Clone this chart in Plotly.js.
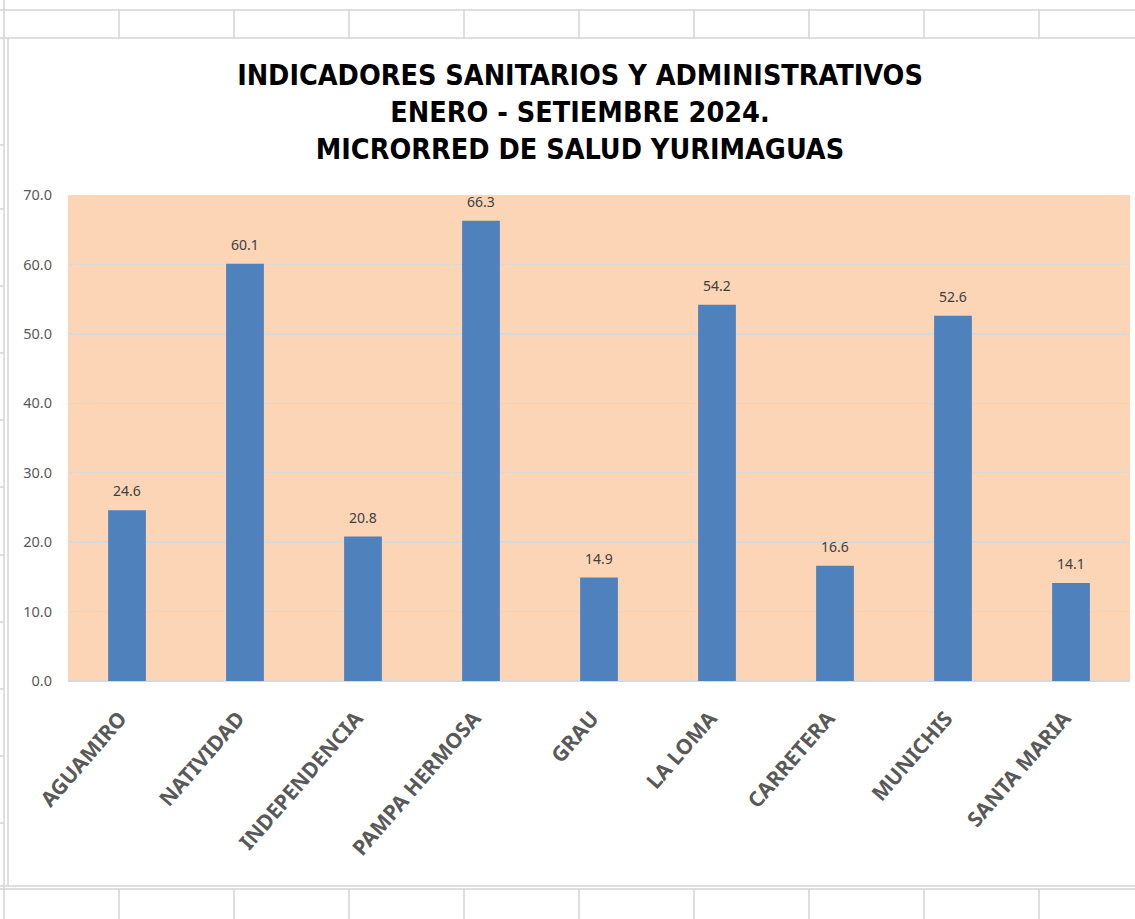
<!DOCTYPE html>
<html>
<head>
<meta charset="utf-8">
<script src="https://cdn.plot.ly/plotly-3.0.1.min.js"></script>
<style>html,body{margin:0;padding:0;background:#fff;}#chart{width:1135px;height:919px;}</style>
</head>
<body>
<div id="chart"></div>
<script>
const categories = ["AGUAMIRO","NATIVIDAD","INDEPENDENCIA","PAMPA HERMOSA","GRAU","LA LOMA","CARRETERA","MUNICHIS","SANTA MARIA"];
const values = [24.6, 60.1, 20.8, 66.3, 14.9, 54.2, 16.6, 52.6, 14.1];
const yTicks = [0, 10, 20, 30, 40, 50, 60, 70];
const titleLines = ["INDICADORES SANITARIOS Y ADMINISTRATIVOS", "ENERO - SETIEMBRE 2024.", "MICRORRED DE SALUD YURIMAGUAS"];

// layout geometry (pixels)
const W = 1135, H = 919, L = 68, R = 5, T = 195, B = 238;
const pw = W - L - R, ph = H - T - B;
const px = x => (x - L) / pw;
const py = y => (H - B - y) / ph;

const grid = '#D4D4D4';
const shapes = [];
[10, 38].forEach(y => shapes.push({type:'line', xref:'paper', yref:'paper', x0:px(0), x1:px(W), y0:py(y), y1:py(y), line:{color:grid, width:1.5}, layer:'below'}));
for (let x = 119; x < W; x += 115) {
  shapes.push({type:'line', xref:'paper', yref:'paper', x0:px(x), x1:px(x), y0:py(10), y1:py(38), line:{color:grid, width:1.5}, layer:'below'});
  shapes.push({type:'line', xref:'paper', yref:'paper', x0:px(x), x1:px(x), y0:py(889), y1:py(H), line:{color:grid, width:1.5}, layer:'below'});
}
shapes.push({type:'line', xref:'paper', yref:'paper', x0:px(4), x1:px(4), y0:py(0), y1:py(H), line:{color:grid, width:1.5}, layer:'below'});
shapes.push({type:'line', xref:'paper', yref:'paper', x0:px(8), x1:px(8), y0:py(38), y1:py(886), line:{color:grid, width:1.5}, layer:'below'});
shapes.push({type:'line', xref:'paper', yref:'paper', x0:px(0), x1:px(W), y0:py(886), y1:py(886), line:{color:grid, width:1.5}, layer:'below'});
shapes.push({type:'line', xref:'paper', yref:'paper', x0:px(0), x1:px(W), y0:py(889), y1:py(889), line:{color:grid, width:1.5}, layer:'below'});
[145, 209, 286, 353, 420, 487, 555, 622, 689, 756, 823].forEach(y => shapes.push({type:'line', xref:'paper', yref:'paper', x0:px(0), x1:px(4), y0:py(y), y1:py(y), line:{color:grid, width:1.5}, layer:'below'}));

const trace = {
  type: 'bar',
  x: categories,
  y: values,
  marker: {color: '#4F81BD'},
  hoverinfo: 'x+y'
};

// value labels above bars
const annotations = categories.map((c, i) => ({
  x: c, y: values[i], xref: 'x', yref: 'y',
  text: values[i].toFixed(1), showarrow: false,
  yanchor: 'bottom', yshift: 8,
  font: {family: 'Noto Sans, sans-serif', size: 14, color: '#404040'}
}));

const layout = {
  width: W, height: H,
  margin: {l: L, r: R, t: T, b: B, pad: 0},
  paper_bgcolor: 'rgba(0,0,0,0)',
  plot_bgcolor: '#FBD5B5',
  bargap: 0.68,
  showlegend: false,
  title: {
    text: titleLines.join('<br>'),
    font: {family: 'DejaVu Sans Condensed, DejaVu Sans, sans-serif', size: 28.5, color: '#000000', weight: 'bold'},
    x: px(580), xanchor: 'center', xref: 'paper',
    y: 1 - 85 / H, yanchor: 'middle', yref: 'container'
  },
  xaxis: {
    type: 'category',
    tickangle: -49,
    tickfont: {family: 'Noto Sans, sans-serif', size: 21, color: '#595959', weight: 'bold'},
    ticklabelstandoff: 20,
    ticklabelshift: -7,
    showline: false, ticks: '', showgrid: false, zeroline: false,
    fixedrange: true
  },
  yaxis: {
    range: [0, 70],
    tickvals: yTicks,
    ticktext: yTicks.map(v => v.toFixed(1)),
    tickfont: {family: 'Noto Sans, sans-serif', size: 14.5, color: '#595959'},
    gridcolor: '#D9D9D9', gridwidth: 1.5,
    zeroline: true, zerolinecolor: '#D9D9D9', zerolinewidth: 1.5,
    showline: false, ticks: '', ticklabelstandoff: 15,
    fixedrange: true
  },
  annotations: annotations,
  shapes: shapes
};

Plotly.newPlot('chart', [trace], layout, {displayModeBar: false, staticPlot: true});
</script>
</body>
</html>
